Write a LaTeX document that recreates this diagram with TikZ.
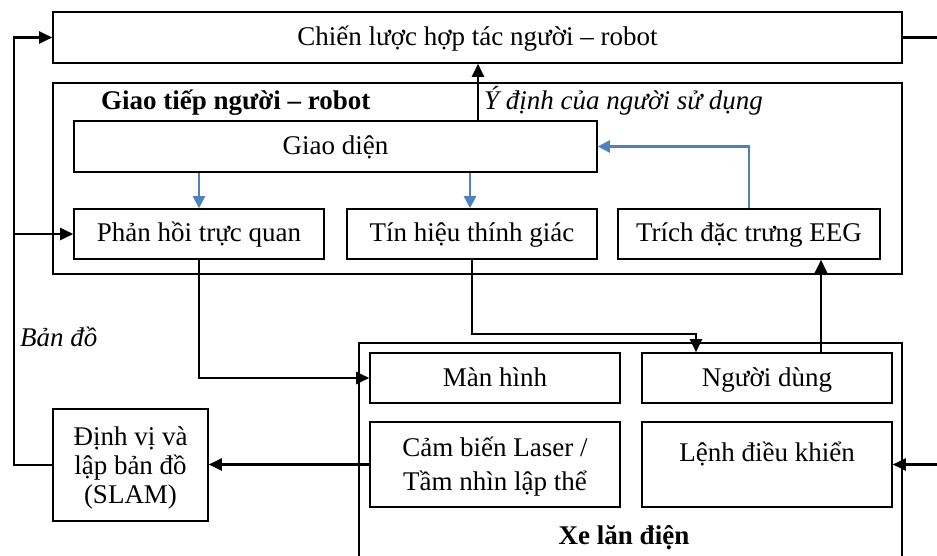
\documentclass[tikz,border=0pt]{standalone}
\usepackage{fontspec}
\setmainfont{Liberation Serif}
\usetikzlibrary{arrows.meta,calc}
\definecolor{flowblue}{RGB}{79,129,189}
\tikzset{
  box/.style={draw=black, line width=1.6pt, rectangle, inner sep=0pt,
    align=center, font=\fontsize{27}{28.5}\selectfont},
  oneline/.style={text height=20pt, text depth=4pt},
  frame/.style={draw=black, line width=2pt, rectangle, inner sep=0pt},
  link/.style={line width=2.2pt, -{Triangle[length=13pt,width=12pt]}},
  bluelink/.style={draw=flowblue, line width=2.2pt, -{Triangle[length=12pt,width=12pt]}},
  title/.style={inner sep=0pt, font=\fontsize{27}{28.5}\selectfont\bfseries},
  note/.style={inner sep=0pt, font=\fontsize{27}{28.5}\selectfont\itshape},
}
\begin{document}
\begin{tikzpicture}[x=1pt,y=-1pt]
\useasboundingbox (0,0) rectangle (937,556);
\clip (0,0) rectangle (937,556);

% strategy box
\node[box, oneline, minimum width=849, minimum height=51] (top) at (477.5,37.5) {Chiến lược hợp tác người – robot};

% human-robot interaction group
\node[frame, minimum width=849, minimum height=191] (hri) at (477.5,178.5) {};
\node[title, anchor=base west] (hrititle) at (101,110) {Giao tiếp người – robot};
\node[box, oneline, minimum width=523, minimum height=51] (gd) at (335.5,146.5) {Giao diện};
\node[box, oneline, minimum width=250, minimum height=50] (ph) at (199,234) {Phản hồi trực quan};
\node[box, oneline, minimum width=250, minimum height=50] (th) at (472,234) {Tín hiệu thính giác};
\node[box, oneline, minimum width=262, minimum height=50] (eeg) at (749,234) {Trích đặc trưng EEG};
\node[note, anchor=base west] (intent) at (484,110) {Ý định của người sử dụng};

% wheelchair group
\node[frame, minimum width=543, minimum height=227] (xe) at (630.5,456.5) {};
\node[box, oneline, minimum width=250, minimum height=50] (mh) at (495,378) {Màn hình};
\node[box, oneline, minimum width=250, minimum height=50] (nd) at (767,378) {Người dùng};
\node[box, minimum width=250, minimum height=85, font=\fontsize{27}{34}\selectfont, text depth=2pt] (cb) at (495,464.5) {Cảm biến Laser /\\Tầm nhìn lập thể};
\node[box, minimum width=250, minimum height=85, text height=20pt, text depth=27pt] (lenh) at (767,464.5) {Lệnh điều khiển};
\node[title, anchor=base] (xetitle) at (624,544) {Xe lăn điện};

% SLAM
\node[box, minimum width=155, minimum height=112, font=\fontsize{27}{29}\selectfont, text depth=0pt] (slam) at (130.5,465) {Định vị và\\lập bản đồ\\(SLAM)};
\node[note, anchor=base west] (mapnote) at (20,346) {Bản đồ};

% blue flows inside the interface group
\draw[bluelink] (gd.south -| ph.north) -- (ph.north);
\draw[bluelink] ([xshift=-2pt]gd.south -| th.north) -- ([xshift=-2pt]th.north);
\draw[bluelink] (eeg.north) |- (gd.east);

% intention up to strategy
\draw[link] ([xshift=142.5pt]gd.north) -- ([xshift=142.5pt]gd.north |- top.south);

% feedback to screen, audio to user, user to EEG
\draw[link] (ph.south) |- (mh.west);
\coordinate (thbend) at ($(th.south)+(0,74)$);
\draw[link] (th.south) -- (thbend) -| ([xshift=-71pt]nd.north);
\draw[link] ([xshift=54pt]nd.north) -- ([xshift=54pt]nd.north |- eeg.south);

% sensors to SLAM, map back to strategy and feedback
\draw[link] (cb.west) -- (cb.west -| slam.east);
\coordinate (leftrail) at (14,465);
\draw[link] (slam.west) -- (leftrail) |- (top.west);
\coordinate (railjoin) at (14,234);
\draw[link] (railjoin) -- (ph.west);

% strategy out to control commands
\coordinate (rightrail) at (950,37.5);
\draw[link] (top.east) -- (rightrail) |- (lenh.east);
\end{tikzpicture}
\end{document}
